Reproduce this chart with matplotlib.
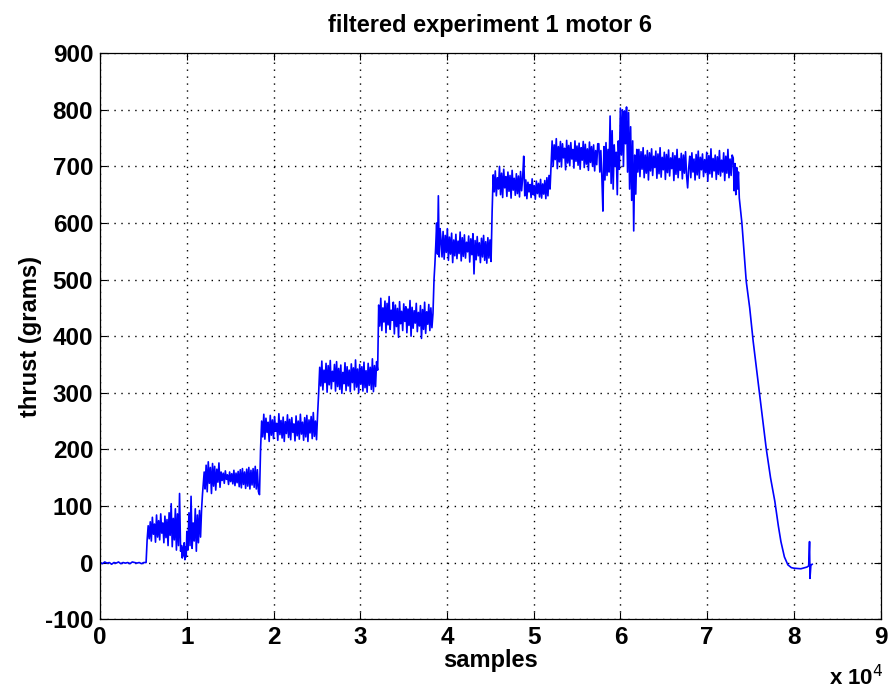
import numpy as np
import matplotlib
matplotlib.use('Agg')
import matplotlib.pyplot as plt

plt.rcParams['font.family'] = ['Liberation Sans', 'DejaVu Sans']
plt.rcParams['axes.unicode_minus'] = False

# plateau segments: (start sample, end sample, thrust values)
seg_flat = (0, 5300, [0, -2, 1, -1, 0, -3, 0, -1, 1, -2, 0, -1, 0, -2, 1, 0, -1, 0, -2, 0])
seg_1 = (5300, 9400, [0, 40, 65, 42, 72, 38, 80, 50, 68, 36, 84, 45, 74, 40, 86, 52, 70,
                      35, 82, 44, 76, 30, 88, 48, 104, 28, 78, 40, 95, 22, 86, 30, 122, 20])
seg_2 = (9400, 10000, [30, 8, 26, 12, 35, 5, 28, 10])
seg_3 = (10000, 11700, [55, 22, 88, 30, 117, 25, 70, 38, 95, 20, 84, 35, 92, 45])
seg_4 = (11700, 12100, [95, 120, 140, 160])
seg_5 = (12100, 18500, [130, 172, 125, 178, 140, 168, 122, 175, 135, 170, 128, 165, 142,
                        176, 133, 160, 145, 158, 140, 162, 147, 155, 138, 160, 143, 157,
                        139, 163, 136, 158, 141, 161, 134, 164, 132, 166, 138, 160, 131,
                        165, 135, 168, 130, 163, 137, 166, 133, 170, 130, 164, 125, 120])
seg_6 = (18500, 25200, [200, 250, 222, 262, 218, 255, 230, 248, 214, 260, 225, 252, 219,
                        258, 232, 246, 216, 263, 226, 251, 220, 257, 214, 249, 228, 261,
                        221, 253, 217, 256, 230, 245, 215, 259, 224, 250, 218, 262, 227,
                        248, 216, 256, 222, 260, 214, 252, 229, 258, 219, 265, 223, 250,
                        217, 262])
seg_7 = (25200, 32000, [300, 345, 312, 356, 305, 340, 318, 352, 301, 348, 314, 357, 307,
                        338, 320, 350, 303, 355, 311, 343, 306, 349, 299, 336, 316, 353,
                        304, 346, 312, 340, 302, 351, 318, 344, 305, 358, 310, 342, 300,
                        350, 315, 346, 303, 354, 309, 339, 301, 352, 313, 345, 306, 360,
                        302, 348, 311, 355])
seg_8 = (32000, 38500, [340, 455, 418, 467, 410, 450, 425, 462, 406, 458, 420, 470, 412,
                        446, 428, 460, 404, 455, 417, 449, 398, 461, 422, 444, 410, 457,
                        426, 452, 406, 448, 419, 463, 400, 451, 414, 445, 423, 458, 408,
                        442, 418, 454, 396, 447, 412, 460, 405, 443, 421, 456, 410, 450,
                        415, 440])
seg_9 = (38500, 39300, [500, 527, 560, 600, 545, 648, 540, 590])
seg_10 = (39300, 45200, [572, 540, 585, 536, 578, 548, 590, 534, 575, 545, 582, 530, 570,
                         542, 580, 537, 568, 546, 584, 533, 574, 541, 579, 538, 566, 549,
                         577, 531, 572, 544, 581, 510, 569, 535, 576, 542, 565, 530, 573,
                         540, 578, 534, 567, 529, 574, 538, 570, 532])
seg_11 = (45200, 52000, [620, 685, 655, 692, 648, 680, 660, 700, 650, 688, 645, 695, 662,
                         682, 647, 690, 656, 684, 644, 693, 658, 679, 649, 687, 652, 683,
                         646, 691, 657, 680, 718, 648, 676, 643, 672, 655, 668, 645, 678,
                         650, 666, 642, 674, 652, 670, 646, 677, 644, 669, 651, 675, 643,
                         680, 648, 684, 660])
seg_12 = (52000, 57500, [705, 745, 700, 738, 712, 749, 696, 735, 708, 744, 699, 740, 715,
                         732, 694, 746, 706, 737, 701, 742, 713, 730, 697, 745, 709, 736,
                         702, 741, 695, 733, 711, 744, 698, 739, 704, 731, 693, 743, 707,
                         735, 700, 738, 692, 728, 703, 740])
seg_13 = (57500, 62000, [740, 690, 728, 680, 621, 735, 676, 742, 684, 730, 690, 789, 670,
                         763, 660, 738, 700, 725, 650, 745, 695, 803, 720, 800, 700, 798,
                         740, 805, 690, 795, 660, 770, 640, 745, 586, 720, 651, 730])
seg_14 = (62000, 73000, [690, 730, 682, 726, 695, 733, 680, 720, 688, 728, 676, 724, 692,
                         731, 684, 718, 698, 727, 679, 722, 687, 733, 681, 716, 694, 725,
                         677, 721, 689, 729, 683, 715, 696, 724, 675, 719, 686, 730, 680,
                         714, 693, 723, 678, 720, 688, 726, 684, 662, 697, 718, 680, 724,
                         690, 713, 676, 721, 685, 727, 679, 716, 694, 722, 682, 712, 689,
                         725, 674, 719, 687, 731, 681, 714, 692, 720, 677, 717, 686, 728,
                         683, 711, 690, 724, 675, 718, 688, 730, 680, 713, 684, 720])
seg_15 = (73000, 73800, [715, 657, 705, 650, 698, 660, 690, 644])

# descent after the last plateau
descent_x = [74000, 74500, 74900, 75300, 75700, 76100, 76500, 76800, 77300, 77800, 78200,
             78500, 78900, 79300, 79700, 80000, 80800, 81500, 81700, 81800, 81850, 81950, 82100]
descent_y = [600, 497, 450, 391, 340, 290, 240, 202, 150, 108, 65,
             37, 10, -4, -9, -10, -11, -8, -6, 37, -28, -5, -3]

segments = [seg_flat, seg_1, seg_2, seg_3, seg_4, seg_5, seg_6, seg_7, seg_8, seg_9,
            seg_10, seg_11, seg_12, seg_13, seg_14, seg_15]

xs, ys = [], []
for start, end, vals in segments:
    xs.extend(np.linspace(start, end, len(vals), endpoint=False))
    ys.extend(vals)
xs.extend(descent_x)
ys.extend(descent_y)
xs = np.array(xs) / 1e4

fig = plt.figure(figsize=(8.9, 6.91), dpi=100)
ax = fig.add_axes([0.1125, 0.104, 0.877, 0.819])
ax.plot(xs, ys, color='#0000ff', linewidth=1.2)

ax.set_xlim(0, 9)
ax.set_ylim(-100, 900)
ax.set_xticks(range(0, 10))
ax.set_yticks(range(-100, 901, 100))
ax.grid(True, color='k', linestyle=(0, (1, 4)), linewidth=1.0)
ax.tick_params(direction='in', top=True, right=True, length=5, labelsize=17.5)
ax.tick_params(axis='x', pad=5)
ax.tick_params(axis='y', pad=5)
for lab in ax.get_xticklabels() + ax.get_yticklabels():
    lab.set_fontweight('bold')
for sp in ax.spines.values():
    sp.set_linewidth(0.9)

ax.set_title('filtered experiment 1 motor 6', fontsize=17, fontweight='bold', pad=15)
ax.set_xlabel('samples', fontsize=17, fontweight='bold', labelpad=0)
ax.set_ylabel('thrust (grams)', fontsize=17, fontweight='bold', labelpad=2)
fig.text(0.932, 0.008, r'x 10$^{4}$', fontsize=16, fontweight='bold', ha='left')

fig.savefig('out.png', dpi=100)
